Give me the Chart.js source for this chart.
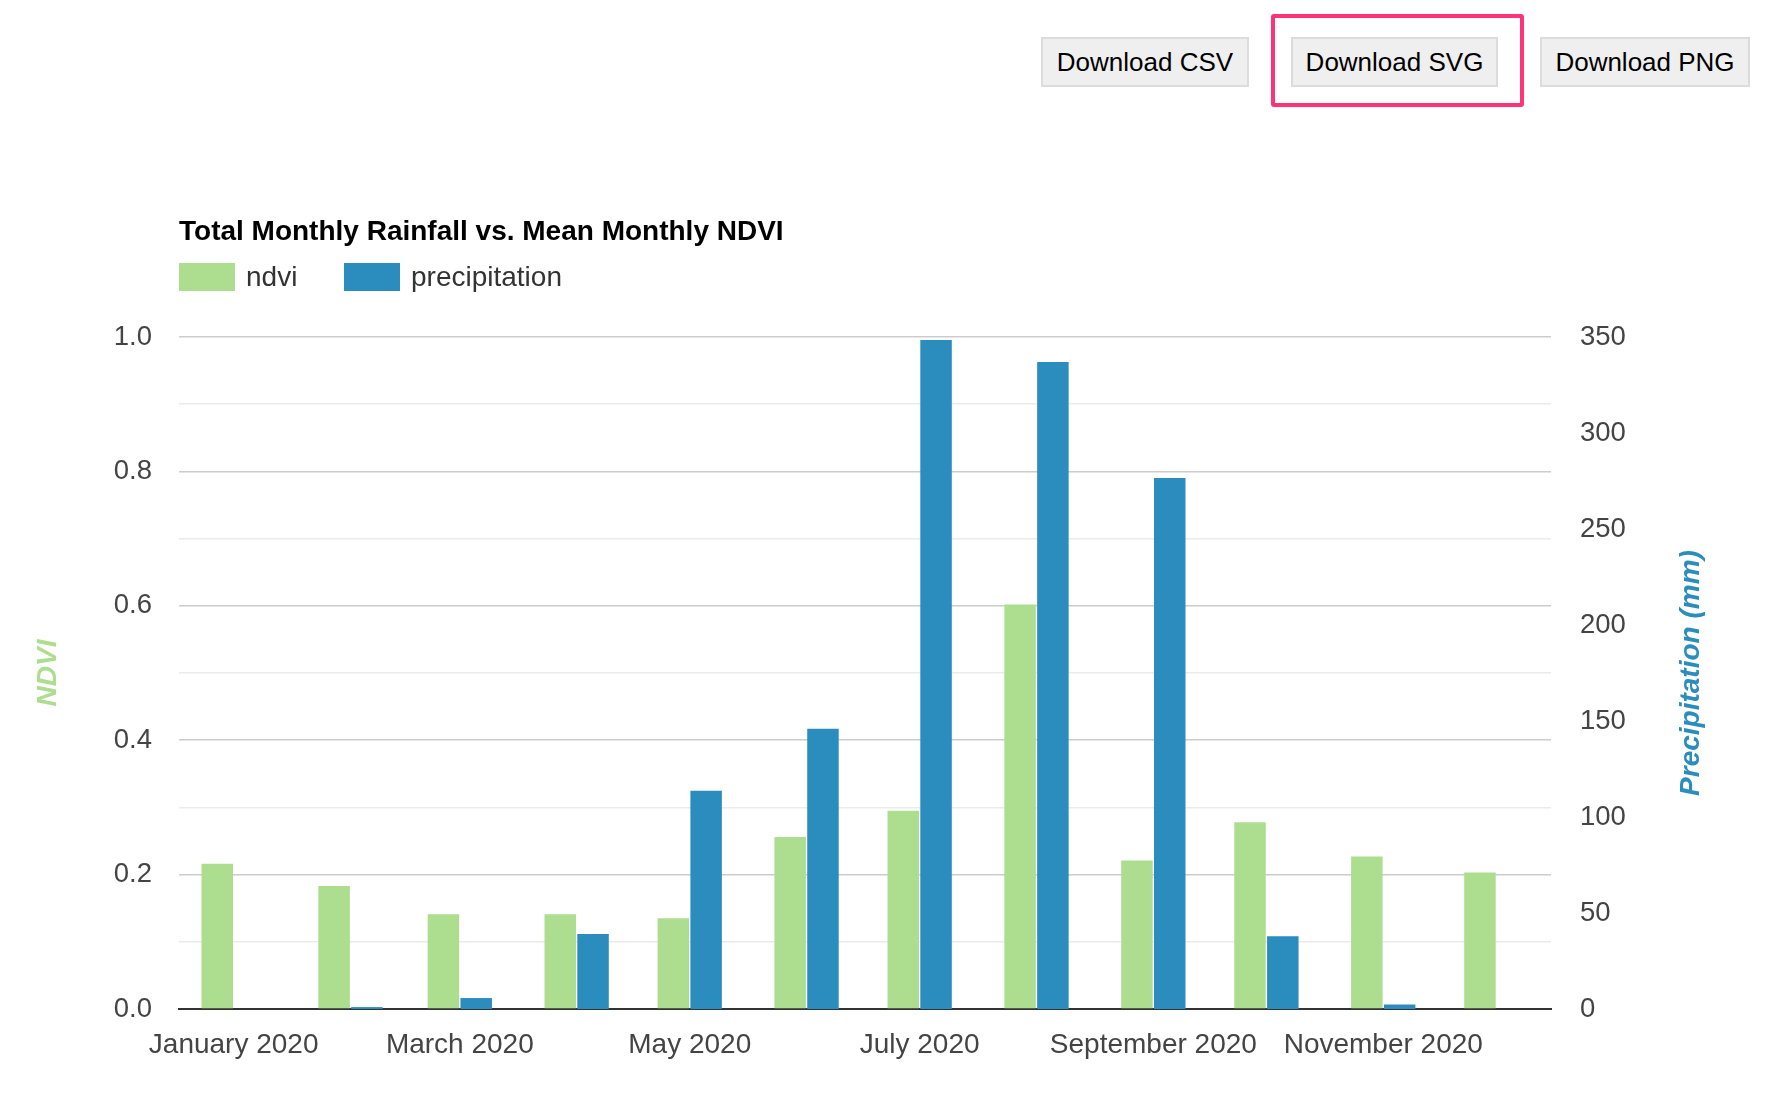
<!DOCTYPE html>
<html>
<head>
<meta charset="utf-8">
<title>Total Monthly Rainfall vs. Mean Monthly NDVI</title>
<script src="https://cdn.jsdelivr.net/npm/chart.js@4/dist/chart.umd.min.js"></script>
<style>
  html, body { margin: 0; padding: 0; background: #fff; }
  body { width: 1780px; height: 1104px; position: relative; overflow: hidden;
         font-family: "Liberation Sans", Arial, Helvetica, sans-serif; }
  #chart { position: absolute; left: 0; top: 0; }
  .btn { position: absolute; top: 37px; height: 50px; box-sizing: border-box;
         background: #efefef; border: 2px solid #dcdcdc; color: #000;
         font: 26px "Liberation Sans", Arial, sans-serif; padding: 0;
         display: flex; align-items: center; justify-content: center; }
  #hilite { position: absolute; left: 1271px; top: 14px; width: 253px; height: 93px;
            box-sizing: border-box; border: 4px solid #ff3377; border-radius: 3px; }
  #title { position: absolute; left: 179px; top: 214px; font-weight: bold; font-size: 28px;
           color: #000; line-height: 34px; white-space: nowrap; }
  .leg { position: absolute; top: 263px; height: 28px; display: flex; align-items: center;
         font-size: 28px; color: #333; white-space: nowrap; }
  .leg span { display: inline-block; width: 56px; height: 28px; margin-right: 11px; }
</style>
</head>
<body>
<canvas id="chart" width="1780" height="1104"></canvas>

<div class="btn" style="left:1041px;width:208px">Download CSV</div>
<div class="btn" style="left:1291px;width:207px">Download SVG</div>
<div class="btn" style="left:1540px;width:210px">Download PNG</div>
<div id="hilite"></div>

<div id="title">Total Monthly Rainfall vs. Mean Monthly NDVI</div>
<div class="leg" style="left:179px"><span style="background:#addd8e"></span>ndvi</div>
<div class="leg" style="left:344px"><span style="background:#2b8cbe"></span>precipitation</div>

<script>
// data
const months = ['January 2020', 'February 2020', 'March 2020', 'April 2020', 'May 2020', 'June 2020',
                'July 2020', 'August 2020', 'September 2020', 'October 2020', 'November 2020', 'December 2020'];
// day of year (2020) on which each month starts, the x axis is a time axis
const monthStartDay = [0, 31, 60, 91, 121, 152, 182, 213, 244, 274, 305, 335];
const ndviValues = [0.216, 0.183, 0.141, 0.141, 0.135, 0.256, 0.295, 0.602, 0.221, 0.278, 0.227, 0.203];
const precipValues = [0, 1.0, 5.7, 39.0, 113.7, 146.0, 348.4, 337.0, 276.5, 37.9, 2.4, 0];

// x ticks: every second month
const tickDays = [0, 60, 121, 182, 244, 305];
const tickLabels = ['January 2020', 'March 2020', 'May 2020', 'July 2020', 'September 2020', 'November 2020'];

const GREEN = '#addd8e';
const BLUE = '#2b8cbe';
const FONT = '"Liberation Sans", Arial, Helvetica, sans-serif';
const rightTitle = 'Precipitation (mm)';

const toPoints = vals => vals.map((v, i) => ({ x: monthStartDay[i], y: v }));

// right axis title reads bottom-to-top, chart.js would turn it the other way
const rightTitlePlugin = {
  id: 'rightTitle',
  afterDraw(chart){
    const s = chart.scales.y1;
    const ctx = chart.ctx;
    ctx.save();
    ctx.translate(s.left + 140, (s.top + s.bottom) / 2);
    ctx.rotate(-Math.PI / 2);
    ctx.font = 'italic bold 28px ' + FONT;
    ctx.fillStyle = BLUE;
    ctx.textAlign = 'center';
    ctx.textBaseline = 'middle';
    ctx.fillText(rightTitle, 0, 0);
    ctx.restore();
  }
};

new Chart(document.getElementById('chart'), {
  type: 'bar',
  data: {
    datasets: [
      { label: 'ndvi', data: toPoints(ndviValues), backgroundColor: GREEN, yAxisID: 'y',
        categoryPercentage: 0.6, barPercentage: 0.96 },
      { label: 'precipitation', data: toPoints(precipValues), backgroundColor: BLUE, yAxisID: 'y1',
        categoryPercentage: 0.6, barPercentage: 0.96 }
    ]
  },
  options: {
    responsive: false,
    animation: false,
    devicePixelRatio: 1,
    layout: { padding: { top: 337, left: 0, right: 0, bottom: 0 } },
    plugins: { legend: { display: false }, title: { display: false }, tooltip: { enabled: false } },
    scales: {
      x: {
        type: 'linear', min: -14.5, max: 349.5, offset: false,
        grid: { display: false, drawTicks: false },
        border: { display: true, color: '#333', width: 2 },
        afterBuildTicks: s => { s.ticks = tickDays.map(v => ({ value: v })); },
        ticks: {
          autoSkip: false, maxRotation: 0, minRotation: 0, padding: 19,
          color: '#444', font: { family: FONT, size: 28 },
          callback: v => { const i = tickDays.indexOf(v); return i < 0 ? '' : tickLabels[i]; }
        },
        afterFit: s => { s.height = 95; }
      },
      y: {
        position: 'left', min: 0, max: 1,
        border: { display: false },
        grid: {
          drawTicks: false, lineWidth: 1.5,
          color: c => {
            const k = Math.round(c.tick.value * 10);
            if (k === 0) return '#333';
            return k % 2 === 0 ? '#cccccc' : '#ebebeb';
          }
        },
        ticks: {
          stepSize: 0.1, padding: 27, color: '#444', font: { family: FONT, size: 27.5 },
          callback: v => Math.round(v * 10) % 2 === 0 ? v.toFixed(1) : ''
        },
        title: {
          display: true, text: 'NDVI', color: GREEN, padding: { top: 31, bottom: 0 },
          font: { family: FONT, size: 28, weight: 'bold', style: 'italic' }
        },
        afterFit: s => { s.width = 179; }
      },
      y1: {
        position: 'right', min: 0, max: 350,
        border: { display: false },
        grid: { display: false, drawTicks: false },
        ticks: { stepSize: 50, padding: 29, color: '#444', font: { family: FONT, size: 27.5 } },
        afterFit: s => { s.width = 229; }
      }
    }
  },
  plugins: [rightTitlePlugin]
});
</script>
</body>
</html>
